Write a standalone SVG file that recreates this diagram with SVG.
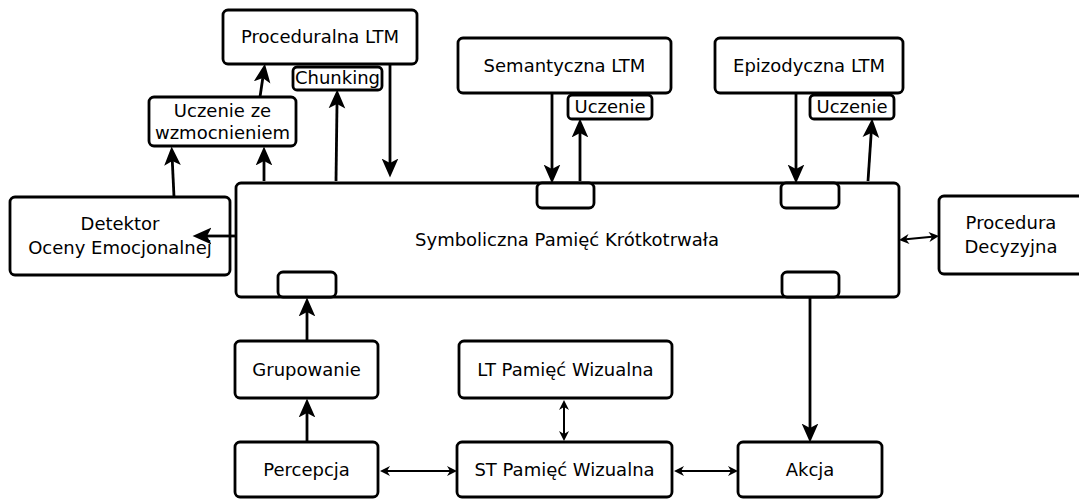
<svg xmlns="http://www.w3.org/2000/svg" width="1079" height="499" viewBox="0 0 1079 499">
<style>
.box{fill:#fff;stroke:#000;stroke-width:2.8}
.t{font-family:"DejaVu Sans",sans-serif;font-size:18px;fill:#000;text-anchor:middle}
.a{stroke:#000;stroke-width:2.8;fill:none;marker-end:url(#ah)}
.d{stroke:#000;stroke-width:2;fill:none;marker-start:url(#sh);marker-end:url(#sh)}
</style>
<defs>
<marker id="ah" markerUnits="userSpaceOnUse" markerWidth="20" markerHeight="20" viewBox="0 -9 18 18" refX="4" refY="0" orient="auto">
<path d="M0,-7.5 L17,0 L0,7.5 L4,0 Z" fill="#000"/>
</marker>
<marker id="sh" markerUnits="userSpaceOnUse" markerWidth="12" markerHeight="12" viewBox="0 -6 11 12" refX="3" refY="0" orient="auto-start-reverse">
<path d="M0,-5 L10,0 L0,5 L3,0 Z" fill="#000"/>
</marker>
</defs>
<rect width="1079" height="499" fill="#fff"/>

<g id="main">
<rect class="box" x="236" y="183" width="663" height="114" rx="5"/>
<text class="t" x="567" y="246">Symboliczna Pamięć Krótkotrwała</text>
<rect class="box" x="537" y="183" width="57" height="25" rx="5"/>
<rect class="box" x="781" y="183" width="58" height="25" rx="5"/>
<rect class="box" x="278" y="272" width="58" height="25" rx="5"/>
<rect class="box" x="782" y="272" width="57" height="25" rx="5"/>
</g>

<g id="proceduralna">
<rect class="box" x="223" y="10" width="194" height="54" rx="5"/>
<text class="t" x="320" y="43">Proceduralna LTM</text>
</g>
<g id="chunking">
<rect class="box" x="293" y="67" width="89" height="23" rx="4"/>
<text class="t" x="337.5" y="84">Chunking</text>
</g>
<g id="uczenie-wzm">
<rect class="box" x="149" y="97" width="147" height="49" rx="5"/>
<text class="t" x="222.5" y="117">Uczenie ze</text>
<text class="t" x="222.5" y="139">wzmocnieniem</text>
</g>
<g id="semantyczna">
<rect class="box" x="458" y="38" width="213" height="55" rx="5"/>
<text class="t" x="564.5" y="72">Semantyczna LTM</text>
</g>
<g id="uczenie-sem">
<rect class="box" x="568" y="95" width="84" height="24" rx="4"/>
<text class="t" x="610" y="113">Uczenie</text>
</g>
<g id="epizodyczna">
<rect class="box" x="715" y="38" width="188" height="55" rx="5"/>
<text class="t" x="809" y="72">Epizodyczna LTM</text>
</g>
<g id="uczenie-epi">
<rect class="box" x="810" y="95" width="84" height="24" rx="4"/>
<text class="t" x="852" y="113">Uczenie</text>
</g>
<g id="detektor">
<rect class="box" x="10" y="197" width="220" height="78" rx="5"/>
<text class="t" x="120" y="230">Detektor</text>
<text class="t" x="120" y="254">Oceny Emocjonalnej</text>
</g>
<g id="procedura">
<rect class="box" x="939" y="196" width="150" height="78" rx="5"/>
<text class="t" x="1011" y="229">Procedura</text>
<text class="t" x="1011" y="253">Decyzyjna</text>
</g>
<g id="grupowanie">
<rect class="box" x="235" y="341" width="143" height="57" rx="5"/>
<text class="t" x="306.5" y="376">Grupowanie</text>
</g>
<g id="lt-pamiec">
<rect class="box" x="459" y="341" width="213" height="57" rx="5"/>
<text class="t" x="565.5" y="376">LT Pamięć Wizualna</text>
</g>
<g id="percepcja">
<rect class="box" x="235" y="442" width="143" height="55" rx="5"/>
<text class="t" x="306.5" y="476">Percepcja</text>
</g>
<g id="st-pamiec">
<rect class="box" x="457" y="442" width="215" height="55" rx="5"/>
<text class="t" x="564.5" y="476">ST Pamięć Wizualna</text>
</g>
<g id="akcja">
<rect class="box" x="738" y="442" width="144" height="55" rx="5"/>
<text class="t" x="810" y="476">Akcja</text>
</g>

<g id="connectors">
<line class="a" x1="174" y1="197" x2="172.3" y2="161"/>
<line class="a" x1="264" y1="181" x2="264" y2="161"/>
<line class="a" x1="260" y1="97" x2="262.8" y2="78"/>
<line class="a" x1="336" y1="181" x2="337" y2="104"/>
<line class="a" x1="390" y1="64" x2="390" y2="163"/>
<line class="a" x1="552" y1="93" x2="552" y2="169"/>
<line class="a" x1="580" y1="181" x2="580" y2="133"/>
<line class="a" x1="796" y1="93" x2="796" y2="169"/>
<line class="a" x1="868" y1="181" x2="871.2" y2="133"/>
<line class="a" x1="236" y1="236" x2="207" y2="236"/>
<line class="a" x1="307" y1="341" x2="307" y2="312"/>
<line class="a" x1="307" y1="442" x2="307" y2="413"/>
<line class="a" x1="810" y1="298" x2="810" y2="428"/>
<line class="d" x1="906" y1="239.3" x2="932" y2="236.7"/>
<line class="d" x1="387" y1="471" x2="450" y2="471"/>
<line class="d" x1="564" y1="407" x2="564" y2="434"/>
<line class="d" x1="681" y1="471" x2="731" y2="471"/>
</g>
</svg>
